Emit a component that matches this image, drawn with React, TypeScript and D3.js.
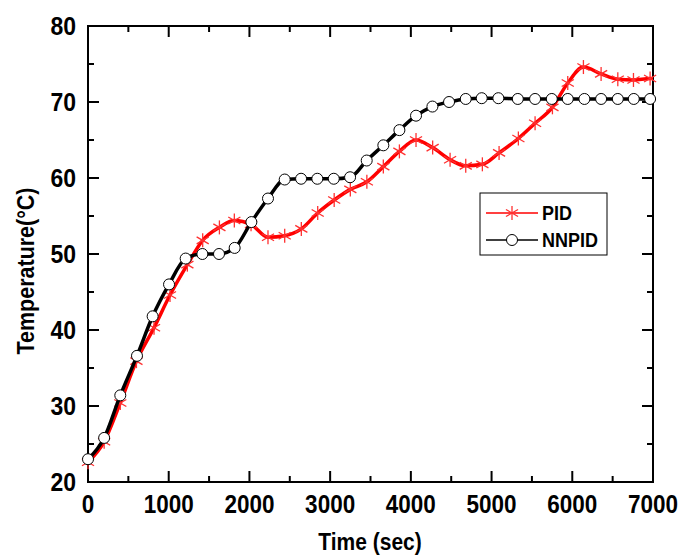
import React, { useEffect, useRef } from 'react'
import * as d3 from 'd3'

// time (sec) and temperature (°C)
const pidTime = [0, 200, 400, 600, 818, 1016, 1231, 1421, 1628, 1813, 2020, 2230, 2437, 2643, 2846, 3050, 3250, 3455, 3659, 3858, 4064, 4270, 4486, 4680, 4886, 5093, 5332, 5539, 5754, 5944, 6138, 6357, 6564, 6758, 6964, 7000]
const pidTemp = [22.6, 25.3, 30.4, 35.9, 40.3, 44.6, 48.6, 51.8, 53.5, 54.4, 53.9, 52.2, 52.4, 53.3, 55.4, 57.1, 58.5, 59.5, 61.5, 63.5, 65.0, 64.0, 62.4, 61.6, 61.8, 63.3, 65.2, 67.2, 69.3, 72.5, 74.6, 73.7, 73.0, 72.9, 73.1, 73.1]
const nnTime = [0, 200, 400, 607, 801, 1004, 1210, 1417, 1623, 1817, 2024, 2230, 2437, 2640, 2841, 3045, 3247, 3453, 3659, 3858, 4064, 4267, 4473, 4680, 4878, 5084, 5325, 5539, 5746, 5944, 6150, 6357, 6564, 6762, 6964, 7000]
const nnTemp = [23.0, 25.8, 31.4, 36.6, 41.8, 46.0, 49.4, 50.0, 50.0, 50.8, 54.2, 57.3, 59.8, 59.9, 59.9, 59.9, 60.1, 62.3, 64.3, 66.3, 68.2, 69.4, 70.0, 70.4, 70.5, 70.5, 70.4, 70.4, 70.4, 70.4, 70.4, 70.4, 70.4, 70.4, 70.4, 70.4]
const xTicks = [0, 1000, 2000, 3000, 4000, 5000, 6000, 7000]
const yTicks = [20, 30, 40, 50, 60, 70, 80]
const seriesNames = ['PID', 'NNPID']

export default function App() {
  const svgRef = useRef<SVGSVGElement>(null)

  useEffect(() => {
    const W = 681, H = 556
    const svg = d3.select(svgRef.current)
    svg.selectAll('*').remove()
    svg.attr('width', W).attr('height', H)

    const left = 88, right = 653, top = 26, bottom = 482
    const x = d3.scaleLinear().domain([0, 7000]).range([left, right])
    const y = d3.scaleLinear().domain([20, 80]).range([bottom, top])
    const font = '"Liberation Sans", Arial, sans-serif'
    const sy = 1.12 // reference text is a bit taller than wide

    // text drawn at (tx, ty) with a slight vertical stretch
    const label = (g: any, tx: number, ty: number, s: string | number, size: number, anchor: string, rot = 0) =>
      g.append('text')
        .attr('transform', `translate(${tx},${ty}) rotate(${rot}) scale(1,${sy})`)
        .attr('text-anchor', anchor)
        .attr('font-family', font).attr('font-weight', 'bold').attr('font-size', size)
        .text(s)

    // frame
    svg.append('rect')
      .attr('x', left).attr('y', top)
      .attr('width', right - left).attr('height', bottom - top)
      .attr('fill', 'none').attr('stroke', '#000').attr('stroke-width', 2)

    // ticks (inward), major + minor on all four sides
    const tk = svg.append('g').attr('stroke', '#000').attr('stroke-width', 2)
    d3.range(0, 7001, 500).forEach(v => {
      const len = v % 1000 === 0 ? 11 : 6
      tk.append('line').attr('x1', x(v)).attr('x2', x(v)).attr('y1', bottom).attr('y2', bottom - len)
      tk.append('line').attr('x1', x(v)).attr('x2', x(v)).attr('y1', top).attr('y2', top + len)
    })
    d3.range(20, 81, 5).forEach(v => {
      const len = v % 10 === 0 ? 11 : 6
      tk.append('line').attr('y1', y(v)).attr('y2', y(v)).attr('x1', left).attr('x2', left + len)
      tk.append('line').attr('y1', y(v)).attr('y2', y(v)).attr('x1', right).attr('x2', right - len)
    })

    // tick labels
    const tl = svg.append('g')
    xTicks.forEach(d => label(tl, x(d), 513, d, 22.5, 'middle'))
    yTicks.forEach(d => label(tl, 76, y(d) + 8.5, d, 23, 'end'))

    // axis titles
    label(svg, 370, 550, 'Time (sec)', 21, 'middle')
    label(svg, 33.5, 271, 'Temperature(°C)', 21.5, 'middle', -90)

    const line = d3.line<[number, number]>()
      .x(d => x(d[0])).y(d => y(d[1]))
      .curve(d3.curveMonotoneX)

    const pid: [number, number][] = pidTime.map((t, i) => [t, pidTemp[i]])
    const nn: [number, number][] = nnTime.map((t, i) => [t, nnTemp[i]])

    const star = (g: any, cx: number, cy: number, r: number) => {
      [90, 30, -30].forEach(a => {
        const rad = a * Math.PI / 180
        g.append('line')
          .attr('x1', cx - r * Math.cos(rad)).attr('y1', cy - r * Math.sin(rad))
          .attr('x2', cx + r * Math.cos(rad)).attr('y2', cy + r * Math.sin(rad))
      })
    }

    // PID
    svg.append('path').datum(pid)
      .attr('d', line).attr('fill', 'none')
      .attr('stroke', '#ff0000').attr('stroke-width', 3.5)
    const pm = svg.append('g').attr('stroke', '#ff3030').attr('stroke-width', 1.3)
    pid.slice(0, -1).forEach(d => star(pm, x(d[0]), y(d[1]), 7))

    // NNPID
    svg.append('path').datum(nn)
      .attr('d', line).attr('fill', 'none')
      .attr('stroke', '#000').attr('stroke-width', 3.5)
    svg.append('g').selectAll('circle').data(nn.slice(0, -1)).join('circle')
      .attr('cx', d => x(d[0])).attr('cy', d => y(d[1])).attr('r', 5.5)
      .attr('fill', '#fff').attr('stroke', '#000').attr('stroke-width', 1)

    // legend
    const lg = svg.append('g')
    lg.append('rect')
      .attr('x', 480).attr('y', 193).attr('width', 127).attr('height', 62)
      .attr('fill', '#fff').attr('stroke', '#000').attr('stroke-width', 1)
    const rows = [213, 240]
    seriesNames.forEach((name, i) => {
      const ry = rows[i]
      const col = i === 0 ? '#ff0000' : '#000'
      lg.append('line').attr('x1', 486).attr('x2', 538).attr('y1', ry).attr('y2', ry)
        .attr('stroke', col).attr('stroke-width', 1.5)
      if (i === 0) {
        const g = lg.append('g').attr('stroke', '#ff3030').attr('stroke-width', 1.3)
        star(g, 512, ry, 7)
      } else {
        lg.append('circle').attr('cx', 512).attr('cy', ry).attr('r', 5.5)
          .attr('fill', '#fff').attr('stroke', '#000').attr('stroke-width', 1)
      }
      label(lg, 542, ry + 7, name, 18, 'start')
    })
  }, [])

  return <svg ref={svgRef} style={{ position: 'absolute', left: 0, top: 0 }} />
}
